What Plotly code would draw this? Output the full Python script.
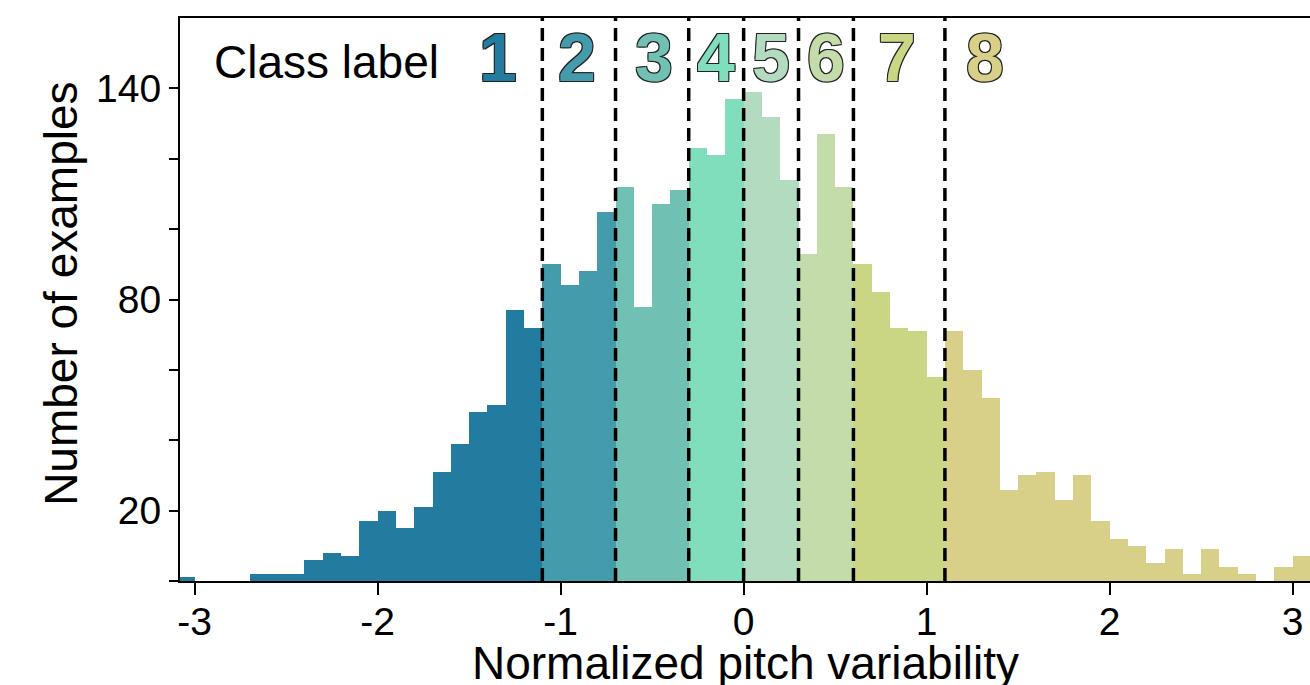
import numpy as np
import plotly.graph_objects as go

# ---------------- data ----------------
bin_left = [round(-3.1 + 0.1 * i, 1) for i in range(62)]
counts = [1, 0, 0, 0, 2, 2, 2, 6, 8, 7, 17, 20, 15, 21, 31, 39, 48, 50, 77, 72,
          90, 84, 88, 105, 112, 78, 107, 111, 123, 121, 137, 139, 132, 114, 93,
          127, 112, 90, 82, 72, 71, 58, 71, 60, 52, 26, 30, 31, 23, 30, 17, 12,
          10, 5, 9, 2, 9, 4, 2, 0, 4, 7]
bin_width = 0.1
class_bounds = [-1.1, -0.7, -0.3, 0.0, 0.3, 0.6, 1.1]
class_names = ["1", "2", "3", "4", "5", "6", "7", "8"]
class_colors = ["#247BA0", "#439BAC", "#70C1B3", "#80DEBD",
                "#B2DBBF", "#C3DCAA", "#CBD685", "#D8CF88"]
label_x = [-1.34, -0.91, -0.49, -0.15, 0.15, 0.45, 0.84, 1.32]
label_y = 149
x_tickvals = [-3, -2, -1, 0, 1, 2, 3]
x_ticktext = ["-3", "-2", "-1", "0", "1", "2", "3"]
y_tickvals = [0, 20, 40, 60, 80, 100, 120, 140]
y_ticktext = ["", "20", "", "", "80", "", "", "140"]

FONT = "Liberation Sans, Arial, Helvetica, sans-serif"

fig = go.Figure()

cls_idx = np.searchsorted(np.array(class_bounds), np.array(bin_left) + 1e-9, side="right")
for k in range(len(class_names)):
    xs = [b + bin_width / 2 for b, c in zip(bin_left, cls_idx) if c == k]
    ys = [n for n, c in zip(counts, cls_idx) if c == k]
    fig.add_trace(go.Bar(x=xs, y=ys, width=bin_width, marker=dict(color=class_colors[k], line=dict(width=0)),
                         showlegend=False, hoverinfo="x+y"))

for b in class_bounds:
    fig.add_shape(type="line", xref="x", yref="paper", x0=b, x1=b, y0=0, y1=1,
                  line=dict(color="black", width=3.5, dash="13px,7px"), layer="above")

outline = "1px 1px 0 #222, -1px -1px 0 #222, 1px -1px 0 #222, -1px 1px 0 #222"
for name, xx, col in zip(class_names, label_x, class_colors):
    fig.add_annotation(x=xx, y=label_y, xref="x", yref="y", text=name, showarrow=False,
                       xanchor="center", yanchor="middle",
                       font=dict(family=FONT, size=68, color=col, weight="bold", shadow=outline))

fig.add_annotation(x=-2.905, y=147.5, xref="x", yref="y", text="Class label", showarrow=False,
                   xanchor="left", yanchor="middle", font=dict(family=FONT, size=46, color="black"))

fig.add_annotation(x=0, y=0.51, xref="paper", yref="paper", xanchor="center", yanchor="middle",
                   xshift=-119, text="Number of examples", textangle=-90, showarrow=False,
                   font=dict(family=FONT, size=46, color="black"))
fig.add_annotation(x=0.5, y=0, xref="paper", yref="paper", xanchor="center", yanchor="middle",
                   yshift=-82, text="Normalized pitch variability", showarrow=False,
                   font=dict(family=FONT, size=46, color="black"))

fig.update_layout(
    width=1310, height=685, autosize=False,
    margin=dict(l=180, r=0, t=18, b=104, autoexpand=False),
    paper_bgcolor="white", plot_bgcolor="white",
    bargap=0, barmode="overlay",
    font=dict(family=FONT, color="black"),
)
fig.update_xaxes(range=[-3.08, 3.095], tickvals=x_tickvals, ticktext=x_ticktext,
                 ticks="outside", ticklen=12, tickwidth=2, tickcolor="black",
                 showline=True, linewidth=2, linecolor="black", mirror=True, automargin=False,
                 ticklabelstandoff=-7,
                 showgrid=False, zeroline=False, tickfont=dict(family=FONT, size=39))
fig.update_yaxes(range=[0, 160], tickvals=y_tickvals, ticktext=y_ticktext,
                 ticks="outside", ticklen=9, tickwidth=2, tickcolor="black",
                 showline=True, linewidth=2, linecolor="black", automargin=False,
                 showgrid=False, zeroline=False, tickfont=dict(family=FONT, size=39))

fig.write_html("out.html", config={"displayModeBar": False},
               post_script="document.body.style.margin='0';document.body.style.overflow='hidden';")
